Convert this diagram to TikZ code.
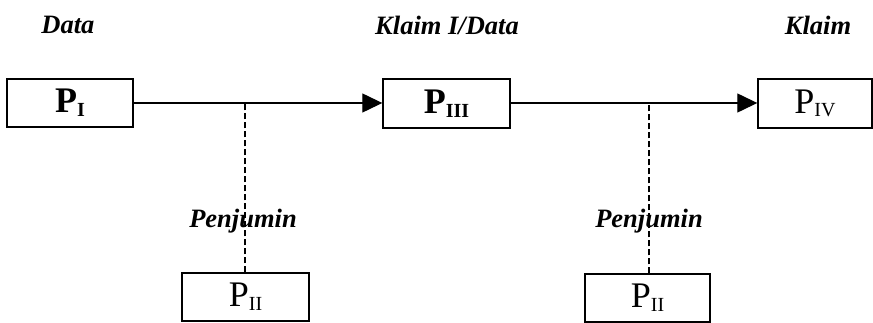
\documentclass[tikz,border=0pt]{standalone}
\usepackage{fontspec}
\setmainfont{Liberation Serif}
\usetikzlibrary{arrows.meta}
\newcommand{\psub}[1]{\raisebox{-0.1em}{\fontsize{20}{20}\selectfont #1}}
\begin{document}
\begin{tikzpicture}[x=1pt,y=-1pt,
  pbox/.style={draw,line width=1.4pt,inner sep=0pt,font=\fontsize{36}{36}\selectfont},
  pbold/.style={pbox,font=\fontsize{36}{36}\selectfont\bfseries},
  role/.style={font=\fontsize{26.5}{26.5}\selectfont\bfseries\itshape,inner sep=0pt},
  flow/.style={line width=1.3pt,-{Triangle[length=20pt,width=19pt]}},
  support/.style={line width=1.5pt,dash pattern=on 6pt off 3pt}]
\useasboundingbox (0,0) rectangle (873,323);

% headings above the chain
\node[role] (hdata) at (68,25) {Data};
\node[role] (hklaimdata) at (447,25) {Klaim I/Data};
\node[role] (hklaim) at (818,25) {Klaim};

% main chain
\node[pbold,minimum width=126pt,minimum height=48pt] (p1) at (70,103) {P\psub{I}};
\node[pbold,minimum width=127pt,minimum height=49pt] (p3) at (446.5,103.5) {P\psub{III}};
\node[pbox,minimum width=114pt,minimum height=49pt] (p4) at (815,103.5) {P\psub{IV}};

% supporting boxes
\node[pbox,minimum width=127pt,minimum height=48pt] (p2a) at (245.5,297) {P\psub{II}};
\node[pbox,minimum width=125pt,minimum height=48pt] (p2b) at (647.5,298) {P\psub{II}};

% arrows between the main steps
\draw[flow] (p1.east |- 0,103) -- (p3.west |- 0,103);
\draw[flow] (p3.east |- 0,103) -- (p4.west |- 0,103);

% dashed warrant links
\coordinate (ja) at (245,103);
\coordinate (jb) at (649,103);
\draw[support] (p2a.north -| ja) -- (ja);
\draw[support] (p2b.north -| jb) -- (jb);

\node[role] (wa) at (243,221) {Penjumin};
\node[role] (wb) at (649,221) {Penjumin};
\end{tikzpicture}
\end{document}
